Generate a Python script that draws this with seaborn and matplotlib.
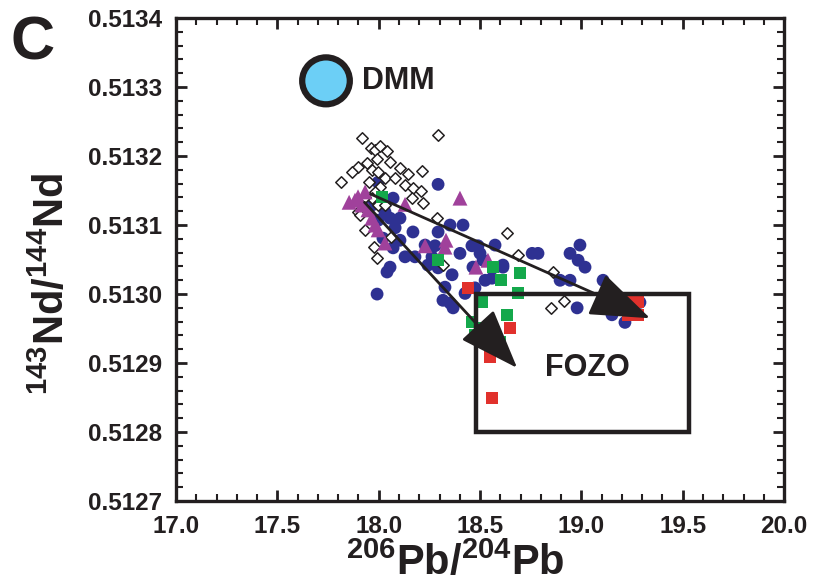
import matplotlib
matplotlib.use("Agg")
import matplotlib.pyplot as plt
import seaborn as sns
import pandas as pd
from matplotlib.patches import Rectangle, Ellipse
from matplotlib.ticker import MultipleLocator, FormatStrFormatter

# ---------------- data ----------------
diamond_x = [17.918, 17.962, 17.982, 18.007, 18.041, 17.992, 17.898, 17.942, 17.967, 17.997,
             18.031, 17.814, 18.105, 18.145, 18.214, 18.130, 18.169, 18.209, 18.164, 18.007,
             17.982, 17.967, 17.997, 18.219, 17.898, 17.933, 18.293, 18.061, 17.977, 17.992,
             17.908, 18.288, 18.633, 18.687, 18.317, 18.860, 18.914, 18.850, 17.868, 18.056,
             18.081, 17.933, 18.031, 17.952]
diamond_y = [0.513226, 0.513212, 0.513209, 0.513214, 0.513207, 0.513196, 0.513184, 0.513190, 0.513180, 0.513177,
             0.513168, 0.513162, 0.513183, 0.513174, 0.513178, 0.513158, 0.513154, 0.513149, 0.513139, 0.513155,
             0.513148, 0.513139, 0.513129, 0.513132, 0.513119, 0.513141, 0.513230, 0.513083, 0.513068, 0.513052,
             0.513114, 0.513110, 0.513088, 0.513057, 0.513042, 0.513032, 0.512990, 0.512980, 0.513177, 0.513191,
             0.513168, 0.513093, 0.513129, 0.513162]

circle_x = [18.293, 18.071, 17.997, 18.056, 18.105, 18.169, 18.293, 18.352, 18.416, 18.401,
            18.460, 18.490, 18.574, 18.757, 18.786, 18.500, 18.515, 18.613, 18.278, 18.263,
            17.997, 18.130, 18.179, 18.071, 18.056, 18.041, 17.992, 18.229, 18.243, 18.293,
            18.362, 18.327, 18.352, 18.367, 18.426, 18.475, 18.525, 18.559, 18.613, 18.465,
            18.539, 18.317, 18.944, 18.993, 18.984, 19.018, 18.895, 18.944, 19.107, 19.151,
            19.127, 18.979, 19.151, 19.215, 19.289, 19.191, 19.249, 17.967, 18.031, 18.021,
            18.105, 18.081]
circle_y = [0.513159, 0.513139, 0.513162, 0.513110, 0.513110, 0.513090, 0.513090, 0.513100, 0.513100, 0.513059,
            0.513070, 0.513070, 0.513071, 0.513059, 0.513059, 0.513059, 0.513049, 0.513042, 0.513070, 0.513054,
            0.513107, 0.513054, 0.513054, 0.513067, 0.513039, 0.513032, 0.513000, 0.513071, 0.513042, 0.513038,
            0.513028, 0.513010, 0.512987, 0.512980, 0.513001, 0.513009, 0.513020, 0.513023, 0.513039, 0.513039,
            0.512938, 0.512991, 0.513059, 0.513071, 0.513049, 0.513039, 0.513020, 0.513020, 0.513020, 0.513001,
            0.512988, 0.512980, 0.512970, 0.512959, 0.512988, 0.512991, 0.512977, 0.513129, 0.513119, 0.513081,
            0.513078, 0.513096]

triangle_x = [17.898, 17.883, 17.933, 17.918, 17.854, 17.967, 17.997, 17.982, 18.031, 18.130,
              18.229, 18.332, 18.327, 18.401, 18.480, 18.539, 17.947]
triangle_y = [0.513141, 0.513136, 0.513148, 0.513129, 0.513133, 0.513110, 0.513093, 0.513100, 0.513074, 0.513130,
              0.513070, 0.513078, 0.513068, 0.513139, 0.513039, 0.513049, 0.513122]

green_x = [18.016, 18.293, 18.564, 18.604, 18.697, 18.687, 18.510, 18.633, 18.460, 18.515,
           18.475, 18.599, 18.549]
green_y = [0.513141, 0.513049, 0.513039, 0.513020, 0.513030, 0.513001, 0.512988, 0.512970, 0.512959, 0.512951,
           0.512941, 0.512930, 0.512922]

red_x = [18.441, 18.648, 18.549, 18.559, 19.240, 19.280, 19.230, 19.280]
red_y = [0.513009, 0.512951, 0.512909, 0.512849, 0.512988, 0.512988, 0.512970, 0.512970]

arrow_starts = [(17.960, 0.513145), (17.930, 0.513133)]
arrow_ends = [(19.339, 0.512965), (18.683, 0.512893)]

fozo_box = (18.48, 0.51280, 19.53, 0.51300)   # x0, y0, x1, y1
dmm_center = (17.740, 0.513309)
dmm_size = (0.235, 0.0000680)

x_ticks = [17.0, 17.5, 18.0, 18.5, 19.0, 19.5, 20.0]
y_ticks = [0.5127, 0.5128, 0.5129, 0.5130, 0.5131, 0.5132, 0.5133, 0.5134]

# ---------------- style ----------------
sns.set_style("ticks")
plt.rcParams['font.family'] = ['Liberation Sans', 'DejaVu Sans']
plt.rcParams['font.weight'] = 'bold'
plt.rcParams['mathtext.fontset'] = 'custom'
plt.rcParams['mathtext.rm'] = 'Liberation Sans:bold'
plt.rcParams['mathtext.bf'] = 'Liberation Sans:bold'

fig = plt.figure(figsize=(8.21, 5.82), dpi=100)
ax = fig.add_axes([0.2144, 0.139, 0.7406, 0.830])

BLUE = "#2E3192"
MAG = "#A0419B"
GREEN = "#14A84B"
RED = "#E1312C"
INK = "#231F20"

df_d = pd.DataFrame({"x": diamond_x, "y": diamond_y})
df_c = pd.DataFrame({"x": circle_x, "y": circle_y})
df_t = pd.DataFrame({"x": triangle_x, "y": triangle_y})
df_g = pd.DataFrame({"x": green_x, "y": green_y})
df_r = pd.DataFrame({"x": red_x, "y": red_y})

sns.scatterplot(data=df_c, x="x", y="y", ax=ax, marker="o", s=85, color=BLUE, edgecolor="none", zorder=3)
sns.scatterplot(data=df_d, x="x", y="y", ax=ax, marker="D", s=34, facecolor="white",
                edgecolor=INK, linewidth=1.1, zorder=4)
sns.scatterplot(data=df_t, x="x", y="y", ax=ax, marker="^", s=115, color=MAG, edgecolor="none", zorder=5)
sns.scatterplot(data=df_g, x="x", y="y", ax=ax, marker="s", s=72, color=GREEN, edgecolor="none", zorder=5)
sns.scatterplot(data=df_r, x="x", y="y", ax=ax, marker="s", s=72, color=RED, edgecolor="none", zorder=5)

# FOZO box
x0, y0, x1, y1 = fozo_box
ax.add_patch(Rectangle((x0, y0), x1 - x0, y1 - y0, fill=False, edgecolor=INK,
                       linewidth=3.2, zorder=6))

# DMM ellipse
ax.add_patch(Ellipse(dmm_center, dmm_size[0], dmm_size[1], facecolor="#6CCFF6",
                     edgecolor=INK, linewidth=4.5, zorder=6))

# arrows
for (sx, sy), (ex, ey) in zip(arrow_starts, arrow_ends):
    ax.annotate("", xy=(ex, ey), xytext=(sx, sy),
                arrowprops=dict(arrowstyle="-|>,head_length=1.9,head_width=0.7",
                                color=INK, lw=2.0, mutation_scale=20,
                                shrinkA=0, shrinkB=0),
                zorder=7)

ax.text(17.92, 0.513309, "DMM", fontsize=22, fontweight="bold", va="center", ha="left", color=INK)
ax.text(18.82, 0.512893, "FOZO", fontsize=22, fontweight="bold", va="center", ha="left", color=INK)
fig.text(0.013, 0.925, "C", fontsize=44, fontweight="bold", ha="left", va="center", color=INK)

# axes
ax.set_xlim(17.0, 20.0)
ax.set_ylim(0.5127, 0.5134)
ax.set_xticks(x_ticks)
ax.set_yticks(y_ticks)
ax.xaxis.set_major_formatter(FormatStrFormatter('%.1f'))
ax.yaxis.set_major_formatter(FormatStrFormatter('%.4f'))
ax.xaxis.set_minor_locator(MultipleLocator(0.1))
ax.yaxis.set_minor_locator(MultipleLocator(0.00002))
ax.tick_params(which="both", direction="in", top=True, right=True, color=INK)
ax.tick_params(which="major", length=8, width=2.0, labelsize=17.5, pad=10)
ax.tick_params(which="minor", length=5, width=1.5)
for lab in ax.get_xticklabels() + ax.get_yticklabels():
    lab.set_fontweight("bold")
    lab.set_color(INK)
for sp in ax.spines.values():
    sp.set_linewidth(2.4)
    sp.set_color(INK)
    sp.set_visible(True)

ax.set_xlabel(r"$^{206}$Pb/$^{204}$Pb", fontsize=30, fontweight="bold", color=INK)
ax.set_ylabel(r"$^{143}$Nd/$^{144}$Nd", fontsize=30, fontweight="bold", color=INK)
ax.xaxis.set_label_coords(0.46, -0.085)
ax.yaxis.set_label_coords(-0.17, 0.45)

fig.savefig("out.png", dpi=100)
